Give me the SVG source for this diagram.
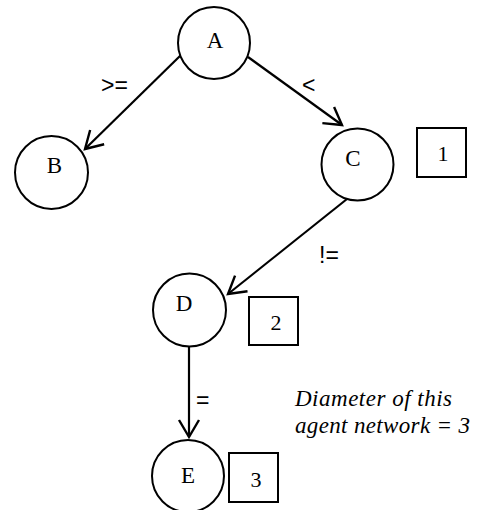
<svg xmlns="http://www.w3.org/2000/svg" width="480" height="510" viewBox="0 0 480 510">
<defs>
<style>
.node circle{fill:#fff;stroke:#000;stroke-width:2}
.node text{font-family:"Liberation Serif",serif;font-size:23px;text-anchor:middle;fill:#000}
.box rect{fill:#fff;stroke:#000;stroke-width:2}
.box text{font-family:"Liberation Serif",serif;font-size:22px;text-anchor:middle;fill:#000}
.edge{stroke:#000;stroke-width:2.2;fill:none;marker-end:url(#arr)}
.lbl{font-family:"Liberation Sans",sans-serif;font-size:23px;fill:#000}
.note{font-family:"Liberation Serif",serif;font-style:italic;font-size:23px;fill:#000}
</style>
<marker id="arr" markerUnits="userSpaceOnUse" markerWidth="30" markerHeight="30" refX="0" refY="0" viewBox="-20 -15 30 30" orient="auto" overflow="visible">
<path d="M-17,-10 L0,0 L-17,10" fill="none" stroke="#000" stroke-width="2.4" stroke-linejoin="miter"/>
</marker>
</defs>
<rect width="480" height="510" fill="#fff"/>
<g id="connectors">
<line class="edge" x1="181" y1="55" x2="85" y2="149"/>
<line class="edge" x1="248" y1="57" x2="342" y2="125"/>
<line class="edge" x1="347" y1="199" x2="228" y2="294"/>
<line class="edge" x1="189" y1="347" x2="189" y2="437"/>
<text class="lbl" x="101" y="93">&gt;=</text>
<text class="lbl" x="302" y="93">&lt;</text>
<text class="lbl" x="319" y="263">!=</text>
<text class="lbl" x="196" y="408">=</text>
</g>
<g id="A" class="node"><circle cx="214" cy="43" r="36"/><text x="215" y="48">A</text></g>
<g id="B" class="node"><circle cx="51.5" cy="172.5" r="36.5"/><text x="54.5" y="173">B</text></g>
<g id="C" class="node"><circle cx="357.5" cy="164.5" r="36"/><text x="353" y="166">C</text></g>
<g id="D" class="node"><circle cx="189.5" cy="310" r="36.5"/><text x="184" y="311">D</text></g>
<g id="E" class="node"><circle cx="188" cy="476" r="36"/><text x="188" y="483">E</text></g>
<g id="box1" class="box"><rect x="417" y="128" width="49" height="49"/><text x="443" y="161">1</text></g>
<g id="box2" class="box"><rect x="249" y="297" width="49" height="48"/><text x="276" y="330">2</text></g>
<g id="box3" class="box"><rect x="229" y="453" width="49" height="49"/><text x="256" y="487">3</text></g>
<g id="note">
<text class="note" x="295" y="406" textLength="157" lengthAdjust="spacing">Diameter of this</text>
<text class="note" x="295" y="433" textLength="175" lengthAdjust="spacing">agent network = 3</text>
</g>
</svg>
